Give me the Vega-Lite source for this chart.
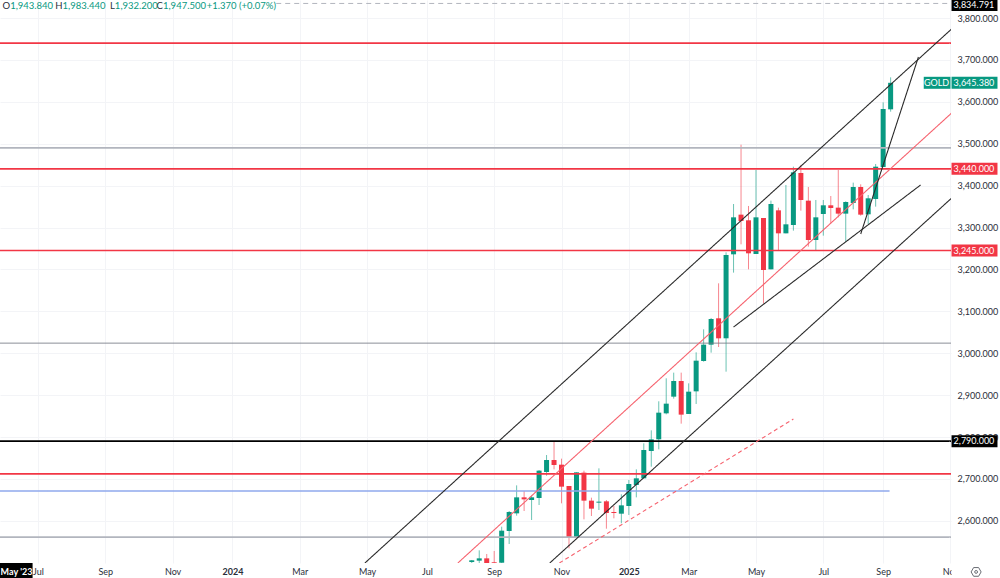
{
  "$schema": "https://vega.github.io/schema/vega-lite/v6.json",
  "description": "GOLD weekly candles with trend channels and price levels.",
  "width": 951,
  "height": 563,
  "padding": {"left": 0, "top": 0, "right": 49, "bottom": 15},
  "autosize": {"type": "none"},
  "background": "white",
  "config": {"view": {"stroke": null}, "font": "Lato"},
  "datasets": {
    "candles": [
      {"date": "2024-08-12", "open": 2501.7, "high": 2506.5, "low": 2498, "close": 2505.7},
      {"date": "2024-08-19", "open": 2504.9, "high": 2529.5, "low": 2490, "close": 2510.4},
      {"date": "2024-08-26", "open": 2510.4, "high": 2520.8, "low": 2490, "close": 2495},
      {"date": "2024-09-02", "open": 2501, "high": 2528, "low": 2490, "close": 2495},
      {"date": "2024-09-09", "open": 2500, "high": 2586, "low": 2490, "close": 2576.5},
      {"date": "2024-09-16", "open": 2575.7, "high": 2623.4, "low": 2544.6, "close": 2621},
      {"date": "2024-09-23", "open": 2617.8, "high": 2684.6, "low": 2612.3, "close": 2656},
      {"date": "2024-09-30", "open": 2656, "high": 2671.1, "low": 2623.4, "close": 2651.2},
      {"date": "2024-10-07", "open": 2649.6, "high": 2660, "low": 2601.9, "close": 2656},
      {"date": "2024-10-14", "open": 2654.4, "high": 2721.2, "low": 2637.7, "close": 2719.7},
      {"date": "2024-10-21", "open": 2716.5, "high": 2757, "low": 2707.7, "close": 2745.1},
      {"date": "2024-10-28", "open": 2745.1, "high": 2788.9, "low": 2722.8, "close": 2733.2},
      {"date": "2024-11-04", "open": 2734, "high": 2748.3, "low": 2641.7, "close": 2681.5},
      {"date": "2024-11-11", "open": 2683.1, "high": 2683.1, "low": 2534.3, "close": 2560.6},
      {"date": "2024-11-18", "open": 2560.6, "high": 2715.7, "low": 2560.6, "close": 2715.7},
      {"date": "2024-11-25", "open": 2714.9, "high": 2719.6, "low": 2603.5, "close": 2648.1},
      {"date": "2024-12-02", "open": 2648.1, "high": 2655.2, "low": 2611.5, "close": 2629},
      {"date": "2024-12-09", "open": 2643.3, "high": 2725.2, "low": 2625.8, "close": 2645.7},
      {"date": "2024-12-16", "open": 2646.5, "high": 2649.6, "low": 2581.2, "close": 2618.6},
      {"date": "2024-12-23", "open": 2621, "high": 2635.3, "low": 2605.9, "close": 2618.6},
      {"date": "2024-12-30", "open": 2617, "high": 2663.2, "low": 2594, "close": 2636.9},
      {"date": "2025-01-06", "open": 2635.3, "high": 2697.4, "low": 2613.9, "close": 2687.8},
      {"date": "2025-01-13", "open": 2685.4, "high": 2722.8, "low": 2656, "close": 2701.4},
      {"date": "2025-01-20", "open": 2701.4, "high": 2784.9, "low": 2701.4, "close": 2769},
      {"date": "2025-01-27", "open": 2766.6, "high": 2815.9, "low": 2729.2, "close": 2794.4},
      {"date": "2025-02-03", "open": 2794.5, "high": 2885.2, "low": 2770.6, "close": 2858.1},
      {"date": "2025-02-10", "open": 2856.5, "high": 2940.1, "low": 2854.1, "close": 2879.6},
      {"date": "2025-02-17", "open": 2896.3, "high": 2953.6, "low": 2891.5, "close": 2933.7},
      {"date": "2025-02-24", "open": 2933.7, "high": 2953.6, "low": 2831.9, "close": 2853.4},
      {"date": "2025-03-03", "open": 2855, "high": 2928.1, "low": 2855, "close": 2908.2},
      {"date": "2025-03-10", "open": 2909, "high": 3002.1, "low": 2878.8, "close": 2982.2},
      {"date": "2025-03-17", "open": 2981.4, "high": 3057, "low": 2979.8, "close": 3020.4},
      {"date": "2025-03-24", "open": 3020.4, "high": 3084.1, "low": 3001.3, "close": 3081.7},
      {"date": "2025-03-31", "open": 3083.3, "high": 3166.8, "low": 3014.8, "close": 3035.5},
      {"date": "2025-04-07", "open": 3035.6, "high": 3240.8, "low": 2956, "close": 3234.4},
      {"date": "2025-04-14", "open": 3236, "high": 3356.1, "low": 3192.3, "close": 3324.3},
      {"date": "2025-04-21", "open": 3330.7, "high": 3497.7, "low": 3259.9, "close": 3315.6},
      {"date": "2025-04-28", "open": 3317.2, "high": 3351.4, "low": 3200.2, "close": 3238.4},
      {"date": "2025-05-05", "open": 3236.8, "high": 3437.3, "low": 3236.8, "close": 3324.3},
      {"date": "2025-05-12", "open": 3322.7, "high": 3322.7, "low": 3119, "close": 3198.6},
      {"date": "2025-05-19", "open": 3200.2, "high": 3364.1, "low": 3200.2, "close": 3356.1},
      {"date": "2025-05-26", "open": 3341, "high": 3347.4, "low": 3243.9, "close": 3286.1},
      {"date": "2025-06-02", "open": 3286.1, "high": 3401.5, "low": 3286.1, "close": 3307.6},
      {"date": "2025-06-09", "open": 3306, "high": 3445.2, "low": 3292.5, "close": 3431.7},
      {"date": "2025-06-16", "open": 3430.1, "high": 3449.2, "low": 3340.2, "close": 3365.7},
      {"date": "2025-06-23", "open": 3364.1, "high": 3396.7, "low": 3254.3, "close": 3270.2},
      {"date": "2025-06-30", "open": 3270.2, "high": 3365.7, "low": 3243.9, "close": 3324.3},
      {"date": "2025-07-07", "open": 3332.3, "high": 3365.7, "low": 3280.6, "close": 3353},
      {"date": "2025-07-14", "open": 3353, "high": 3375.2, "low": 3310, "close": 3346.6},
      {"date": "2025-07-21", "open": 3347.4, "high": 3437.3, "low": 3324.3, "close": 3333.1},
      {"date": "2025-07-28", "open": 3333.1, "high": 3362.5, "low": 3266.2, "close": 3360.9},
      {"date": "2025-08-04", "open": 3358.5, "high": 3407.1, "low": 3343.4, "close": 3396.7},
      {"date": "2025-08-11", "open": 3396.7, "high": 3403.1, "low": 3328.3, "close": 3330.7},
      {"date": "2025-08-18", "open": 3331.5, "high": 3377.6, "low": 3308.4, "close": 3369.7},
      {"date": "2025-08-25", "open": 3368.1, "high": 3451.6, "low": 3349.8, "close": 3445.2},
      {"date": "2025-09-01", "open": 3444.4, "high": 3598.8, "low": 3444.4, "close": 3582.9},
      {"date": "2025-09-08", "open": 3582.1, "high": 3658.4, "low": 3576.5, "close": 3645.4}
    ],
    "lines": [
      {"kind": "last", "from": "2024-02-11", "to": "2025-11-04", "y": 3834.791, "y2": 3834.791},
      {"kind": "red", "from": "2023-05-28", "to": "2025-11-04", "y": 3740, "y2": 3740},
      {"kind": "gray", "from": "2023-05-28", "to": "2025-11-04", "y": 3490, "y2": 3490},
      {"kind": "red", "from": "2023-05-28", "to": "2025-11-04", "y": 3440, "y2": 3440},
      {"kind": "red", "from": "2023-05-28", "to": "2025-11-04", "y": 3245, "y2": 3245},
      {"kind": "slate", "from": "2023-05-28", "to": "2025-11-04", "y": 3024, "y2": 3024},
      {"kind": "black", "from": "2023-05-28", "to": "2025-11-04", "y": 2790, "y2": 2790},
      {"kind": "red", "from": "2023-05-28", "to": "2025-11-04", "y": 2712, "y2": 2712},
      {"kind": "blue", "from": "2023-05-28", "to": "2025-09-07", "y": 2671, "y2": 2671},
      {"kind": "gray", "from": "2023-05-28", "to": "2025-11-04", "y": 2561, "y2": 2561},
      {"kind": "trend", "from": "2024-05-04", "to": "2025-11-04", "y": 2499.3, "y2": 3773.7},
      {"kind": "thin-red", "from": "2024-07-30", "to": "2025-11-04", "y": 2499.3, "y2": 3573},
      {"kind": "trend", "from": "2025-04-14", "to": "2025-10-06", "y": 3062.5, "y2": 3401.4},
      {"kind": "trend", "from": "2024-10-24", "to": "2025-11-04", "y": 2499.3, "y2": 3370},
      {"kind": "dash-red", "from": "2024-11-02", "to": "2025-06-09", "y": 2499.3, "y2": 2843},
      {"kind": "trend", "from": "2025-08-11", "to": "2025-09-01", "y": 3284.5, "y2": 3449},
      {"kind": "trend", "from": "2025-09-01", "to": "2025-10-04", "y": 3449, "y2": 3707}
    ],
    "tags": [
      {"kind": "black", "price": 3831, "label": "3,834.791", "from": "2025-11-04", "to": "2025-12-17", "mid": "2025-11-25"},
      {"kind": "tag-green", "price": 3645.38, "label": "GOLD", "from": "2025-10-09", "to": "2025-11-03", "mid": "2025-10-21"},
      {"kind": "tag-green", "price": 3645.38, "label": "3,645.380", "from": "2025-11-04", "to": "2025-12-17", "mid": "2025-11-25"},
      {"kind": "red", "price": 3440, "label": "3,440.000", "from": "2025-11-04", "to": "2025-12-17", "mid": "2025-11-25"},
      {"kind": "red", "price": 3245, "label": "3,245.000", "from": "2025-11-04", "to": "2025-12-17", "mid": "2025-11-25"},
      {"kind": "black", "price": 2790, "label": "2,790.000", "from": "2025-11-04", "to": "2025-12-17", "mid": "2025-11-25"}
    ],
    "bottom": [
      {"kind": "black", "price": 2480, "from": "2023-05-01", "to": "2023-06-28"},
      {"kind": "blank", "price": 2480, "from": "2025-11-04", "to": "2025-12-25"}
    ],
    "header": [
      {"letter": "O", "value": "1,943.840", "date": "2023-06-07", "y": 3829},
      {"letter": "H", "value": "1,983.440", "date": "2023-07-26", "y": 3829},
      {"letter": "L", "value": "1,932.200", "date": "2023-09-13", "y": 3829},
      {"letter": "C", "value": "1,947.500", "date": "2023-10-28", "y": 3829},
      {"letter": "", "value": "+1.370 (+0.07%)", "date": "2023-12-08", "y": 3829}
    ]
  },
  "layer": [
    {
      "data": {"name": "candles"},
      "mark": {"type": "rule", "clip": true, "strokeWidth": 1, "opacity": 0.6},
      "encoding": {
        "x": {
          "field": "date",
          "type": "temporal",
          "title": null,
          "scale": {"type": "utc", "padding": 0, "domain": ["2023-05-28T12:00:00Z", "2025-11-03T12:00:00Z"]},
          "axis": {
            "values": ["2023-07-03", "2023-09-04", "2023-11-06", "2024-01-01", "2024-03-04", "2024-05-06", "2024-07-01", "2024-09-02", "2024-11-04", "2025-01-06", "2025-03-03", "2025-05-05", "2025-07-07", "2025-09-01", "2025-11-03"],
            "labelExpr": "utcmonth(datum.value) == 0 ? utcFormat(datum.value, '%Y') : utcFormat(datum.value, '%b')",
            "labelFontWeight": {"condition": {"test": "utcmonth(datum.value) == 0", "value": "bold"}, "value": "normal"},
            "labelFontSize": 9,
            "labelColor": "#2a2e39",
            "labelPadding": 4,
            "labelOverlap": false,
            "labelFlush": false,
            "ticks": false,
            "domain": false,
            "grid": true,
            "gridColor": "#f3f4f7",
            "gridWidth": 1
          }
        },
        "y": {
          "field": "low",
          "type": "quantitative",
          "title": null,
          "scale": {"domain": [2499.3, 3843], "zero": false, "nice": false, "padding": 0},
          "axis": {
            "orient": "right",
            "values": [2600, 2700, 2800, 2900, 3000, 3100, 3200, 3300, 3400, 3500, 3600, 3700, 3800],
            "format": ",.3f",
            "labelFontSize": 9,
            "labelColor": "#2a2e39",
            "labelPadding": 6,
            "ticks": false,
            "domain": false,
            "grid": true,
            "gridColor": "#f3f4f7",
            "gridWidth": 1
          }
        },
        "y2": {"field": "high"},
        "color": {"condition": {"test": "datum.close >= datum.open", "value": "#089981"}, "value": "#f23645"}
      }
    },
    {
      "data": {"name": "candles"},
      "mark": {"type": "bar", "clip": true, "width": 5},
      "encoding": {
        "x": {"field": "date", "type": "temporal"},
        "y": {"field": "open", "type": "quantitative"},
        "y2": {"field": "close"},
        "color": {"condition": {"test": "datum.close >= datum.open", "value": "#089981"}, "value": "#f23645"}
      }
    },
    {
      "data": {"name": "lines"},
      "mark": {"type": "rule", "clip": true},
      "encoding": {
        "x": {"field": "from", "type": "temporal"},
        "x2": {"field": "to"},
        "y": {"field": "y", "type": "quantitative"},
        "y2": {"field": "y2"},
        "color": {
          "field": "kind",
          "type": "nominal",
          "legend": null,
          "scale": {
            "domain": ["last", "red", "gray", "slate", "black", "blue", "trend", "thin-red", "dash-red", "tag-green", "blank"],
            "range": ["#b2b5be", "#f23645", "#b2b5be", "#787b86", "#000000", "#8fa8ec", "#2a2a2a", "#f6626e", "#f6626e", "#089981", "#ffffff"]
          }
        },
        "strokeWidth": {
          "field": "kind",
          "type": "nominal",
          "legend": null,
          "scale": {
            "type": "ordinal",
            "domain": ["last", "red", "gray", "slate", "black", "blue", "trend", "thin-red", "dash-red"],
            "range": [1, 1.6, 1.6, 1, 1.7, 1.6, 1.1, 1.1, 1.1]
          }
        },
        "strokeDash": {
          "field": "kind",
          "type": "nominal",
          "legend": null,
          "scale": {
            "domain": ["last", "red", "gray", "slate", "black", "blue", "trend", "thin-red", "dash-red"],
            "range": [[5, 4], [1, 0], [1, 0], [1, 0], [1, 0], [1, 0], [1, 0], [1, 0], [4, 3]]
          }
        }
      }
    },
    {
      "data": {"name": "tags"},
      "mark": {"type": "rule", "strokeWidth": 12},
      "encoding": {
        "x": {"field": "from", "type": "temporal"},
        "x2": {"field": "to"},
        "y": {"field": "price", "type": "quantitative"},
        "color": {"field": "kind", "type": "nominal", "legend": null}
      }
    },
    {
      "data": {"name": "tags"},
      "mark": {"type": "text", "color": "white", "fontSize": 9, "align": "center", "baseline": "middle"},
      "encoding": {
        "x": {"field": "mid", "type": "temporal"},
        "y": {"field": "price", "type": "quantitative"},
        "text": {"field": "label"}
      }
    },
    {
      "data": {"name": "bottom"},
      "mark": {"type": "rule", "strokeWidth": 16},
      "encoding": {
        "x": {"field": "from", "type": "temporal"},
        "x2": {"field": "to"},
        "y": {"field": "price", "type": "quantitative"},
        "color": {"field": "kind", "type": "nominal", "legend": null}
      }
    },
    {
      "data": {"values": [{"label": "May '23", "date": "2023-06-13", "y": 2478}]},
      "mark": {"type": "text", "color": "white", "fontSize": 9, "fontWeight": "bold", "align": "center", "baseline": "middle"},
      "encoding": {
        "x": {"field": "date", "type": "temporal"},
        "y": {"field": "y", "type": "quantitative"},
        "text": {"field": "label"}
      }
    },
    {
      "data": {"values": [{"date": "2025-11-27", "y": 2478}]},
      "mark": {"type": "point", "shape": "M-1,0L-0.5,-0.87L0.5,-0.87L1,0L0.5,0.87L-0.5,0.87Z", "size": 100, "stroke": "#2a2e39", "strokeWidth": 1, "filled": false},
      "encoding": {
        "x": {"field": "date", "type": "temporal"},
        "y": {"field": "y", "type": "quantitative"}
      }
    },
    {
      "data": {"values": [{"date": "2025-11-27", "y": 2478}]},
      "mark": {"type": "point", "shape": "circle", "size": 8, "stroke": "#2a2e39", "strokeWidth": 1, "filled": false},
      "encoding": {
        "x": {"field": "date", "type": "temporal"},
        "y": {"field": "y", "type": "quantitative"}
      }
    },
    {
      "data": {"name": "header"},
      "mark": {"type": "text", "color": "#2a2e39", "fontSize": 9.5, "align": "right", "baseline": "middle"},
      "encoding": {
        "x": {"field": "date", "type": "temporal"},
        "y": {"field": "y", "type": "quantitative"},
        "text": {"field": "letter"}
      }
    },
    {
      "data": {"name": "header"},
      "mark": {"type": "text", "color": "#089981", "fontSize": 9.5, "align": "left", "baseline": "middle"},
      "encoding": {
        "x": {"field": "date", "type": "temporal"},
        "y": {"field": "y", "type": "quantitative"},
        "text": {"field": "value"}
      }
    }
  ]
}
